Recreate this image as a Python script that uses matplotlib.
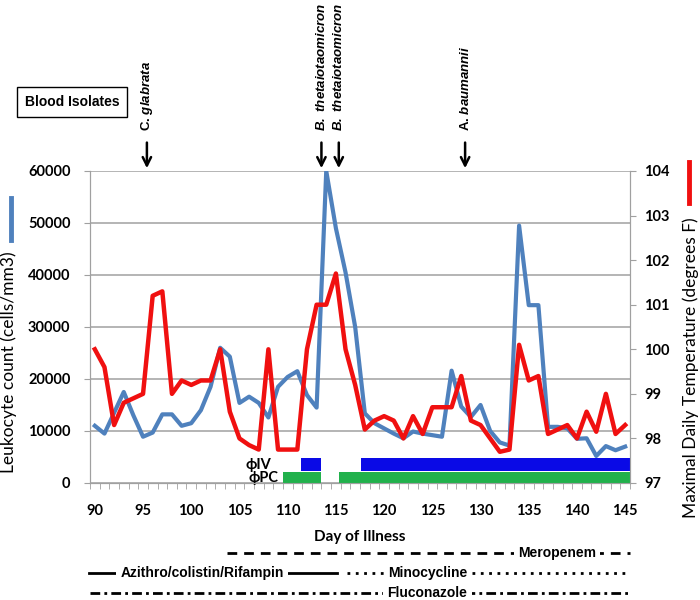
import numpy as np
import matplotlib
matplotlib.use('Agg')
import matplotlib.pyplot as plt
from matplotlib.lines import Line2D

# day of illness (category axis)
days = list(range(90, 146))

# leukocyte count (cells/mm3)
wbc = [11000, 9500, 13500, 17500, 13000, 8900, 9700, 13200, 13200, 11000,
       11500, 14000, 18500, 26000, 24300, 15400, 16600, 15400, 12600, 18500,
       20400, 21500, 16900, 14500, 60000, 49000, 40500, 30000, 13400, 11500,
       10500, 9500, 8600, 9900, 9500, 9200, 8900, 21600, 14700, 12700,
       15000, 10000, 7800, 7200, 49500, 34200, 34200, 10800, 10800, 10500,
       8500, 8600, 5200, 7100, 6300, 7000]

# maximal daily temperature (F)
temp = [100.0, 99.6, 98.3, 98.8, 98.9, 99.0, 101.2, 101.3, 99.0, 99.3,
        99.2, 99.3, 99.3, 100.0, 98.6, 98.0, 97.85, 97.75, 100.0, 97.75,
        97.75, 97.75, 100.0, 101.0, 101.0, 101.7, 100.0, 99.2, 98.2, 98.4,
        98.5, 98.4, 98.0, 98.5, 98.1, 98.7, 98.7, 98.7, 99.4, 98.4,
        98.3, 98.0, 97.7, 97.75, 100.1, 99.3, 99.4, 98.1, 98.2, 98.3,
        98.0, 98.6, 98.15, 99.0, 98.1, 98.3]

# blood isolates
isolate_names = ['C. $\\mathbfit{glabrata}$', '$\\mathbfit{B.\\ thetaiotaomicron}$',
                 '$\\mathbfit{B.\\ thetaiotaomicron}$', 'A. $\\mathbfit{baumannii}$']
isolate_days = [95.4, 113.5, 115.3, 128.4]

# phage therapy periods
iv_start = [111.4, 117.6]
iv_end = [113.5, 145.5]
pc_start = [109.5, 115.3]
pc_end = [113.5, 145.5]

# antimicrobials
drug_names = ['Meropenem', 'Azithro/colistin/Rifampin', 'Minocycline', 'Fluconazole']
drug_start = [103.7, 89.4, 116.2, 89.5]
drug_end = [145.5, 115.1, 145.5, 145.5]
drug_label_day = [137.9, 101.1, 124.5, 124.5]
drug_row = [0, 1, 1, 2]
drug_dash = [(3.5, 2.5), None, (1, 2), (3.5, 1.5, 1, 1.5)]

plt.rcParams['mathtext.fontset'] = 'custom'
plt.rcParams['mathtext.rm'] = 'Liberation Sans:bold'
plt.rcParams['mathtext.it'] = 'Liberation Sans:italic:bold'
plt.rcParams['mathtext.bfit'] = 'Liberation Sans:italic:bold'

grey = '#a0a0a0'
tick_font = dict(family='Lato', weight='bold', size=10.5)

fig = plt.figure(figsize=(7, 6), dpi=100)
ax = fig.add_axes([90 / 700, 117 / 600, 540 / 700, 312 / 600])
ax2 = ax.twinx()

# phage bars
ax.barh([3550] * len(iv_start), np.array(iv_end) - np.array(iv_start), height=2450,
        left=iv_start, color='#0a0ae6', zorder=3)
ax.barh([1100] * len(pc_start), np.array(pc_end) - np.array(pc_start), height=2200,
        left=pc_start, color='#22b14c', zorder=3)
ax.text(108.3, 3550, '\u03d5IV', ha='right', va='center', family=['Lato', 'DejaVu Sans'],
        weight='bold', size=10.5, zorder=4)
ax.text(109.0, 1000, '\u03d5PC', ha='right', va='center', family=['Lato', 'DejaVu Sans'],
        weight='bold', size=10.5, zorder=4)

ax.plot(days, wbc, color='#4f81bd', lw=3.0, zorder=4, solid_joinstyle='round')
ax2.plot(days, temp, color='#f01010', lw=3.2, zorder=4, solid_joinstyle='round')

ax.set_xlim(89.5, 145.5)
ax.set_ylim(0, 60000)
ax2.set_ylim(97, 104)

ax.set_yticks(range(0, 60001, 10000))
ax.grid(axis='y', color=grey, lw=1.1)
ax.set_axisbelow(True)
ax.set_xticks(range(90, 146, 5))
ax.set_xticks(np.arange(89.5, 146, 1), minor=True)
ax.tick_params(axis='x', which='major', length=0, pad=15)
ax.tick_params(axis='x', which='minor', length=4, color=grey, direction='out')
ax.tick_params(axis='y', length=4, color=grey, pad=10)
ax2.tick_params(axis='y', length=4, color=grey, pad=6)
ax2.set_yticks(range(97, 105))
for lab in ax.get_xticklabels() + ax.get_yticklabels() + ax2.get_yticklabels():
    lab.set_fontproperties(tick_font)

for a in (ax, ax2):
    a.spines['top'].set_visible(False)
    for s in ('left', 'right', 'bottom'):
        a.spines[s].set_color(grey)

ax.set_xlabel('Day of Illness', family='Lato', weight='bold', size=11)
ax.xaxis.set_label_coords(0.5, -0.15)
ax.set_ylabel('Leukocyte count (cells/mm3)', family='Lato', size=12.5)
ax.yaxis.set_label_coords(-0.136, 0.388)
ax2.set_ylabel('Maximal Daily Temperature (degrees F)', family='Lato', size=12.5, rotation=90)
ax2.yaxis.set_label_coords(1.097, 0.37)

# legend swatches
fig.add_artist(Line2D([10.7 / 700] * 2, [1 - 198 / 600, 1 - 240 / 600], color='#4f81bd', lw=3.5))
fig.add_artist(Line2D([689 / 700] * 2, [1 - 162 / 600, 1 - 203 / 600], color='#f01010', lw=3.5))

# blood isolates
fig.text(72 / 700, 1 - 102 / 600, 'Blood Isolates', ha='center', va='center',
         family='Liberation Sans', weight='bold', size=10,
         bbox=dict(boxstyle='square,pad=0.55', fc='white', ec='black', lw=1))
for name, d in zip(isolate_names, isolate_days):
    ax.annotate('', xy=(d, 1.0), xycoords=('data', 'axes fraction'),
                xytext=(d, 1.1), textcoords=('data', 'axes fraction'),
                arrowprops=dict(arrowstyle='->', lw=1.8, color='black', mutation_scale=15),
                annotation_clip=False)
    ax.text(d, 1.128, name, rotation=90, ha='center', va='bottom', size=9.5,
            family='Liberation Sans', weight='bold', transform=ax.get_xaxis_transform())

# antimicrobial timeline
ax3 = fig.add_axes([90 / 700, 0, 540 / 700, 60 / 600])
ax3.set_xlim(89.5, 145.5)
ax3.set_ylim(2.35, -0.65)
ax3.axis('off')
for name, s, e, ld, r, ds in zip(drug_names, drug_start, drug_end, drug_label_day,
                                 drug_row, drug_dash):
    ln, = ax3.plot([s, e], [r, r], color='black', lw=2, clip_on=False)
    if ds is not None:
        ln.set_dashes(ds)
    ax3.text(ld, r, name, ha='center', va='center', family='Liberation Sans',
             weight='bold', size=10, clip_on=False,
             bbox=dict(fc='white', ec='none', pad=3))

fig.savefig('out.png', dpi=100)
